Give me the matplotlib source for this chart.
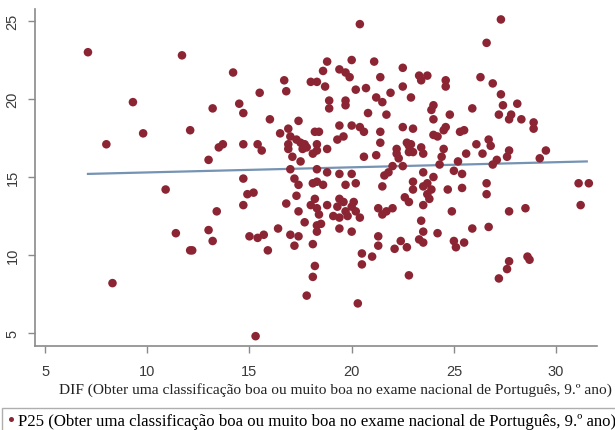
import matplotlib
matplotlib.use("Agg")
import matplotlib.pyplot as plt
from matplotlib.lines import Line2D

# P25 against DIF, one point per school
dif = [
    7.1, 11.7, 9.3, 8.0, 9.8, 12.1, 10.9, 11.4, 12.1, 8.3,
    14.2, 13.2, 14.5, 14.7, 13.0, 13.5, 13.7, 14.7, 15.4, 15.6,
    14.7, 15.5, 16.0, 16.5, 16.7, 16.8, 14.9, 15.2, 14.7, 13.4,
    13.0, 13.2, 12.2, 15.0, 15.4, 15.7, 15.9, 16.4, 15.3,
    16.9, 17.0, 17.3, 17.5, 17.7, 16.9, 17.8, 18.3, 18.2, 18.4,
    17.4, 18.0, 18.3, 18.7, 18.6, 18.8, 18.9, 18.9, 18.8, 18.1,
    17.1, 17.5, 17.0, 18.3, 18.8, 17.2, 17.4, 18.1, 18.3, 18.6,
    16.8, 17.3, 17.4, 18.2, 18.0, 18.3, 18.4, 18.8, 17.7, 18.3,
    18.5, 18.3, 17.0, 17.2, 17.4, 18.1, 18.2, 18.1, 17.8, 18.3,
    17.6, 16.9,
    20.4, 20.0, 19.4, 19.7, 19.9, 20.2, 20.7, 19.7, 19.7, 20.8,
    19.4, 20.0, 20.4, 20.6, 19.6, 19.3, 20.6, 19.4, 20.0, 19.7,
    20.2, 19.4, 19.6, 20.1, 19.3, 20.0, 19.1, 19.4, 19.7, 19.8,
    20.2, 20.4, 19.4, 20.0, 20.5, 20.5, 20.3,
    21.1, 22.5, 21.4, 22.5, 21.2, 21.5, 21.9, 21.7, 21.4, 22.5,
    22.2, 22.7, 21.2, 22.3, 22.0, 22.5, 21.8, 21.5, 21.6, 22.6,
    21.3, 21.3, 21.0, 22.1, 22.4, 22.7, 22.8, 21.4, 22.8, 22.2,
    22.8, 23.0, 21.3, 21.5, 21.7, 22.0, 22.8, 22.9, 23.0,
    23.3, 23.7, 23.4, 24.6, 24.6, 24.0, 23.9, 24.8, 24.0, 24.5,
    24.6, 24.2, 24.0, 25.5, 25.3, 22.9, 23.0, 23.4, 23.5, 26.1,
    24.5, 24.4, 25.6, 24.3, 25.2, 23.5, 25.0, 25.4, 24.0, 23.0,
    23.5, 23.9, 23.8, 23.5, 24.7, 25.4, 24.9, 23.4, 23.5, 23.3,
    23.5, 24.2, 25.0, 25.1, 25.5, 25.9, 23.7, 23.7,
    27.3, 26.6, 26.3, 26.9, 27.3, 25.9, 27.4, 28.1, 27.2, 27.8,
    27.7, 28.3, 28.9, 28.9, 26.7, 26.8, 26.4, 27.7, 27.6, 29.5,
    29.2, 27.1, 26.9, 26.6, 26.6, 26.7, 27.7, 28.5, 31.1, 31.6,
    31.2, 27.7, 27.6, 27.2, 28.6, 28.7,
]
p25 = [
    23.0, 22.8, 19.8, 17.1, 17.8, 18.0, 14.2, 11.4, 10.3, 8.2,
    21.7, 19.4, 19.7, 19.1, 16.1, 16.9, 17.1, 17.1, 17.1, 16.7,
    14.9, 20.4, 18.7, 17.8, 21.2, 20.5, 13.9, 14.0, 13.2, 12.8,
    11.6, 10.9, 10.3, 11.2, 11.1, 11.3, 10.3, 11.7, 4.8,
    18.1, 17.6, 17.4, 17.2, 17.1, 17.1, 16.9, 17.1, 17.9, 17.9,
    18.6, 21.1, 21.1, 20.8, 21.8, 22.4, 19.9, 19.4, 16.8, 16.5,
    16.3, 16.0, 15.5, 15.5, 15.3, 14.9, 14.5, 14.6, 14.7, 14.5,
    13.3, 13.8, 12.8, 13.6, 13.2, 13.0, 12.6, 13.2, 12.1, 11.9,
    12.0, 11.5, 11.3, 10.6, 11.2, 10.7, 9.3, 8.6, 7.4, 16.7,
    16.8, 16.8,
    24.8, 22.5, 21.9, 21.7, 21.4, 20.6, 20.7, 19.9, 19.6, 19.1,
    18.3, 18.3, 18.2, 17.9, 17.6, 17.4, 16.3, 15.2, 15.2, 14.5,
    14.6, 13.6, 13.4, 13.4, 13.1, 13.1, 12.5, 12.4, 12.8, 12.5,
    12.8, 12.4, 11.7, 11.5, 10.1, 9.4, 6.9,
    22.4, 22.0, 21.4, 20.8, 20.1, 19.8, 20.4, 19.0, 17.9, 18.2,
    16.8, 17.2, 16.4, 16.2, 15.7, 15.7, 15.3, 14.4, 15.1, 13.7,
    11.2, 10.6, 9.9, 10.4, 10.9, 10.5, 8.7, 17.2, 17.0, 16.5,
    16.6, 14.7, 13.0, 12.6, 12.8, 13.0, 13.4, 20.1, 18.1,
    21.5, 21.5, 21.2, 21.2, 20.8, 19.6, 19.3, 19.0, 18.7, 18.0,
    18.2, 17.6, 17.7, 18.0, 17.9, 17.1, 16.6, 16.9, 16.5, 17.1,
    16.8, 16.3, 16.5, 15.8, 16.0, 15.3, 15.4, 15.2, 15.0, 14.2,
    14.4, 14.2, 13.6, 13.2, 14.2, 14.3, 12.8, 12.2, 11.5, 11.0,
    10.8, 11.4, 10.9, 10.5, 10.8, 11.7, 14.6, 13.9,
    25.1, 23.6, 21.4, 21.0, 20.3, 19.4, 19.6, 19.7, 19.0, 19.0,
    18.7, 18.7, 18.5, 18.1, 17.4, 17.0, 16.5, 16.7, 16.3, 16.7,
    16.2, 16.1, 15.8, 14.6, 13.9, 11.8, 12.8, 13.0, 14.6, 14.6,
    13.2, 9.6, 9.1, 8.5, 9.9, 9.7,
]

# fitted line end points
fit_x = [7.1, 31.5]
fit_y = [15.2, 16.0]

x_ticks = [5, 10, 15, 20, 25, 30]
y_ticks = [5, 10, 15, 20, 25]

axis_grey = "#8a8a8a"
dot_red = "#8c2533"
line_blue = "#7593b3"

fig = plt.figure(figsize=(6.15, 4.31), dpi=100)
ax = fig.add_axes([35 / 615, 1 - 347 / 431, 562 / 615, 337 / 431])

ax.scatter(dif, p25, s=38, color=dot_red, edgecolors="none", zorder=3)
ax.plot(fit_x, fit_y, color=line_blue, linewidth=1.6, zorder=2)

ax.set_xlim(4.51, 32.0)
ax.set_ylim(4.17, 25.77)
ax.set_xticks(x_ticks)
ax.set_yticks(y_ticks)

for side in ["top", "right"]:
    ax.spines[side].set_visible(False)
for side in ["left", "bottom"]:
    ax.spines[side].set_color(axis_grey)
    ax.spines[side].set_linewidth(1.2)

ax.tick_params(axis="both", direction="out", length=5, width=1, color=axis_grey,
               labelcolor="#3a3a3a", labelsize=10.5)
ax.tick_params(axis="x", pad=8)
ax.tick_params(axis="y", pad=6)
for lab in ax.get_xticklabels() + ax.get_yticklabels():
    lab.set_family("Liberation Sans")
for lab in ax.get_yticklabels():
    lab.set_rotation(90)
    lab.set_va("center")

ax.set_xlabel("DIF (Obter uma classificação boa ou muito boa no exame nacional de Português, 9.º ano)",
              family="Liberation Serif", fontsize=11.1, color="#222222")
ax.xaxis.set_label_coords((335 - 35) / 562, -36 / 337)

# legend strip along the bottom, running off the right edge
handle = Line2D([], [], linestyle="none", marker="o", markersize=3.6,
                markerfacecolor=dot_red, markeredgecolor="none")
leg = fig.legend([handle], ["P25 (Obter uma classificação boa ou muito boa no exame nacional de Português, 9.º ano)"],
                 loc="upper left", bbox_to_anchor=(2 / 615, 1 - 409 / 431),
                 prop={"family": "Liberation Serif", "size": 12.1},
                 frameon=True, fancybox=False, edgecolor="#9a9a9a",
                 handlelength=0.45, handletextpad=0.2, borderpad=0.3,
                 borderaxespad=0)
leg.get_frame().set_linewidth(1.0)

fig.savefig("out.png", dpi=100)
